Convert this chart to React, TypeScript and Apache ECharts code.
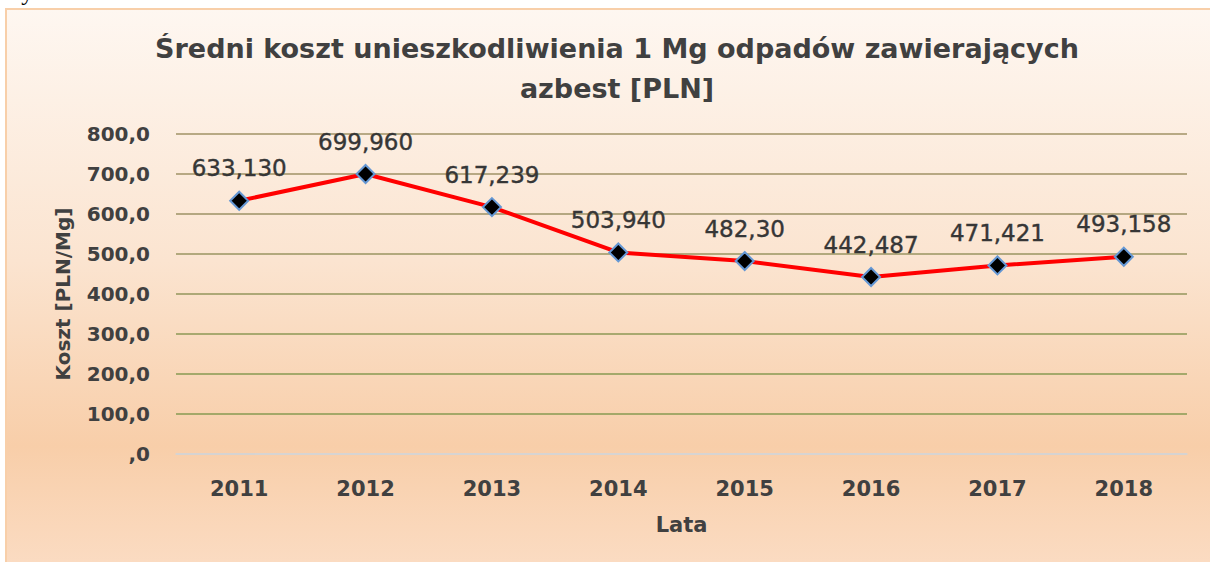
import React, { useEffect, useRef } from "react";
import * as echarts from "echarts";

const years = ["2011", "2012", "2013", "2014", "2015", "2016", "2017", "2018"];
const costs = [633.13, 699.96, 617.239, 503.94, 482.3, 442.487, 471.421, 493.158];
const costLabels = ["633,130", "699,960", "617,239", "503,940", "482,30", "442,487", "471,421", "493,158"];
const yTicks = [0, 100, 200, 300, 400, 500, 600, 700, 800];

const titleText = "Średni koszt unieszkodliwienia 1 Mg odpadów zawierających\nazbest [PLN]";
const FONT = "'DejaVu Sans', sans-serif";

export default function App() {
  const ref = useRef<HTMLDivElement>(null);
  useEffect(() => {
    if (!ref.current) return;
    const chart = echarts.init(ref.current, null, { renderer: "svg" });
    const fmt = (v: number) => {
      const s = v.toFixed(1).replace(".", ",");
      return s.startsWith("0,") ? s.slice(1) : s;
    };
    chart.setOption({
      animation: false,
      graphic: [
        {
          type: "rect",
          z: -10,
          silent: true,
          shape: { x: 6, y: 9, width: 1212, height: 560 },
          style: {
            fill: new echarts.graphic.LinearGradient(0, 0, 0, 1, [
              { offset: 0, color: "#fef7f1" },
              { offset: 0.45, color: "#fbe4d0" },
              { offset: 0.78, color: "#f8cea9" },
              { offset: 1, color: "#fbdcc3" },
            ]),
            stroke: "#f8cfa9",
            lineWidth: 2,
          },
        },
        {
          type: "text",
          left: 0,
          top: -20,
          style: {
            text: "Wykres 4.",
            font: "24px 'Liberation Serif', serif",
            fill: "#000",
          },
        },
      ],
      title: {
        text: titleText,
        left: 612,
        textAlign: "center",
        top: 23,
        textStyle: {
          fontFamily: FONT,
          fontWeight: "bold",
          fontSize: 27,
          lineHeight: 40,
          color: "#404040",
        },
      },
      grid: { left: 176, right: 23, top: 134, bottom: 108, containLabel: false },
      xAxis: {
        type: "category",
        data: years,
        boundaryGap: true,
        name: "Lata",
        nameLocation: "middle",
        nameGap: 60,
        nameTextStyle: { fontFamily: FONT, fontWeight: "bold", fontSize: 21, color: "#404040" },
        axisLine: { show: true, lineStyle: { color: "#d4d4d4", width: 1.5 } },
        axisTick: { show: false },
        axisLabel: {
          margin: 24,
          fontFamily: FONT,
          fontWeight: "bold",
          fontSize: 21,
          color: "#404040",
        },
      },
      yAxis: {
        type: "value",
        min: yTicks[0],
        max: yTicks[yTicks.length - 1],
        interval: 100,
        name: "Koszt [PLN/Mg]",
        nameLocation: "middle",
        nameGap: 103,
        nameRotate: 90,
        nameTextStyle: { fontFamily: FONT, fontWeight: "bold", fontSize: 20, color: "#404040" },
        axisLine: { show: false },
        axisTick: { show: false },
        axisLabel: {
          margin: 26,
          fontFamily: FONT,
          fontWeight: "bold",
          fontSize: 20,
          color: "#404040",
          formatter: (v: number) => fmt(v),
        },
        splitLine: {
          show: true,
          lineStyle: {
            width: 1.5,
            color: ["#d4d4d4", "#879a52", "#879a52", "#8c9855", "#93965b", "#9a9460", "#9d9264", "#a09266", "#a09266"],
          },
        },
      },
      series: [
        {
          type: "line",
          data: costs,
          lineStyle: { color: "#ff0000", width: 4 },
          symbol: "diamond",
          symbolSize: 18,
          itemStyle: { color: "#000000", borderColor: "#6497d4", borderWidth: 2 },
          label: {
            show: true,
            position: "top",
            distance: 11,
            fontFamily: FONT,
            fontSize: 23,
            color: "#363636",
            textBorderColor: "#363636",
            textBorderWidth: 0.4,
            formatter: (p: any) => costLabels[p.dataIndex],
          },
          z: 5,
        },
      ],
    });
    return () => chart.dispose();
  }, []);
  return (
    <div
      ref={ref}
      style={{ position: "fixed", left: 0, top: 0, width: 1210, height: 562, background: "#ffffff" }}
    />
  );
}
